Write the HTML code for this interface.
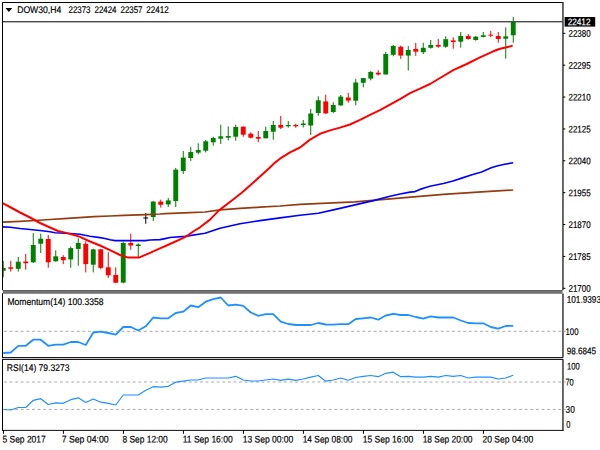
<!DOCTYPE html>
<html><head><meta charset="utf-8"><style>
html,body{margin:0;padding:0;background:#fff;width:600px;height:450px;overflow:hidden;}
svg{display:block;}
text{font-family:"Liberation Sans",sans-serif;}
</style></head><body>
<svg width="600" height="450" viewBox="0 0 600 450">
<rect width="600" height="450" fill="#fff"/>
<defs><clipPath id="cm"><rect x="3" y="3" width="559.5" height="287"/></clipPath><clipPath id="c2"><rect x="3" y="294" width="559.5" height="63"/></clipPath><clipPath id="c3"><rect x="3" y="360" width="559.5" height="69"/></clipPath></defs>
<g clip-path="url(#cm)">
<rect x="2.75" y="260.90" width="1" height="16.30" fill="#008000"/>
<rect x="0.80" y="267.90" width="4.9" height="2.90" fill="#008000"/>
<rect x="10.25" y="260.90" width="1" height="10.70" fill="#ff0000"/>
<rect x="8.30" y="267.30" width="4.9" height="1.50" fill="#ff0000"/>
<rect x="17.75" y="257.00" width="1" height="14.60" fill="#008000"/>
<rect x="15.80" y="261.70" width="4.9" height="7.10" fill="#008000"/>
<rect x="25.25" y="254.00" width="1" height="15.80" fill="#ff0000"/>
<rect x="23.30" y="261.50" width="4.9" height="1.70" fill="#ff0000"/>
<rect x="32.75" y="233.00" width="1" height="30.00" fill="#008000"/>
<rect x="30.80" y="245.00" width="4.9" height="17.30" fill="#008000"/>
<rect x="40.25" y="233.70" width="1" height="19.30" fill="#008000"/>
<rect x="38.30" y="238.70" width="4.9" height="5.00" fill="#008000"/>
<rect x="47.75" y="235.00" width="1" height="32.70" fill="#ff0000"/>
<rect x="45.80" y="239.00" width="4.9" height="23.30" fill="#ff0000"/>
<rect x="55.25" y="250.30" width="1" height="11.40" fill="#008000"/>
<rect x="53.30" y="256.30" width="4.9" height="5.00" fill="#008000"/>
<rect x="62.75" y="255.20" width="1" height="9.00" fill="#ff0000"/>
<rect x="60.80" y="257.00" width="4.9" height="3.20" fill="#ff0000"/>
<rect x="70.25" y="246.50" width="1" height="21.30" fill="#008000"/>
<rect x="68.30" y="248.10" width="4.9" height="11.30" fill="#008000"/>
<rect x="77.75" y="238.30" width="1" height="27.50" fill="#008000"/>
<rect x="75.80" y="243.00" width="4.9" height="5.90" fill="#008000"/>
<rect x="85.25" y="241.20" width="1" height="31.20" fill="#ff0000"/>
<rect x="83.30" y="243.80" width="4.9" height="20.30" fill="#ff0000"/>
<rect x="92.75" y="248.60" width="1" height="23.80" fill="#008000"/>
<rect x="90.80" y="249.40" width="4.9" height="15.30" fill="#008000"/>
<rect x="100.25" y="249.10" width="1" height="20.30" fill="#ff0000"/>
<rect x="98.30" y="249.30" width="4.9" height="18.60" fill="#ff0000"/>
<rect x="107.75" y="252.20" width="1" height="25.70" fill="#ff0000"/>
<rect x="105.80" y="267.30" width="4.9" height="8.00" fill="#ff0000"/>
<rect x="115.25" y="267.30" width="1" height="16.00" fill="#ff0000"/>
<rect x="113.30" y="275.00" width="4.9" height="7.70" fill="#ff0000"/>
<rect x="122.75" y="241.70" width="1" height="41.70" fill="#008000"/>
<rect x="120.80" y="243.00" width="4.9" height="39.60" fill="#008000"/>
<rect x="130.25" y="233.70" width="1" height="16.00" fill="#ff0000"/>
<rect x="128.30" y="243.00" width="4.9" height="2.50" fill="#ff0000"/>
<rect x="137.75" y="243.40" width="1" height="13.60" fill="#008000"/>
<rect x="135.80" y="244.50" width="4.9" height="1.50" fill="#008000"/>
<rect x="145.25" y="213.00" width="1" height="10.80" fill="#000000"/>
<rect x="143.30" y="217.50" width="4.9" height="1.00" fill="#000000"/>
<rect x="152.75" y="201.00" width="1" height="20.00" fill="#008000"/>
<rect x="150.80" y="201.60" width="4.9" height="15.40" fill="#008000"/>
<rect x="160.25" y="199.60" width="1" height="8.00" fill="#ff0000"/>
<rect x="158.30" y="201.60" width="4.9" height="3.20" fill="#ff0000"/>
<rect x="167.75" y="198.00" width="1" height="9.00" fill="#008000"/>
<rect x="165.80" y="200.40" width="4.9" height="4.00" fill="#008000"/>
<rect x="175.25" y="168.00" width="1" height="39.00" fill="#008000"/>
<rect x="173.30" y="169.60" width="4.9" height="31.40" fill="#008000"/>
<rect x="182.75" y="151.00" width="1" height="23.00" fill="#008000"/>
<rect x="180.80" y="157.60" width="4.9" height="13.40" fill="#008000"/>
<rect x="190.25" y="147.00" width="1" height="14.00" fill="#008000"/>
<rect x="188.30" y="152.00" width="4.9" height="6.00" fill="#008000"/>
<rect x="197.75" y="143.30" width="1" height="11.00" fill="#008000"/>
<rect x="195.80" y="150.00" width="4.9" height="2.70" fill="#008000"/>
<rect x="205.25" y="140.00" width="1" height="12.40" fill="#008000"/>
<rect x="203.30" y="141.30" width="4.9" height="9.40" fill="#008000"/>
<rect x="212.75" y="136.70" width="1" height="9.00" fill="#008000"/>
<rect x="210.80" y="138.00" width="4.9" height="4.30" fill="#008000"/>
<rect x="220.25" y="124.70" width="1" height="19.30" fill="#008000"/>
<rect x="218.30" y="136.30" width="4.9" height="2.40" fill="#008000"/>
<rect x="227.75" y="126.40" width="1" height="14.00" fill="#008000"/>
<rect x="225.80" y="136.00" width="4.9" height="1.70" fill="#008000"/>
<rect x="235.25" y="124.70" width="1" height="16.00" fill="#008000"/>
<rect x="233.30" y="127.00" width="4.9" height="9.70" fill="#008000"/>
<rect x="242.75" y="126.30" width="1" height="10.40" fill="#ff0000"/>
<rect x="240.80" y="126.70" width="4.9" height="8.00" fill="#ff0000"/>
<rect x="250.25" y="132.30" width="1" height="6.00" fill="#ff0000"/>
<rect x="248.30" y="133.70" width="4.9" height="4.00" fill="#ff0000"/>
<rect x="257.75" y="131.00" width="1" height="11.30" fill="#ff0000"/>
<rect x="255.80" y="137.00" width="4.9" height="1.70" fill="#ff0000"/>
<rect x="265.25" y="126.60" width="1" height="11.70" fill="#008000"/>
<rect x="263.30" y="131.00" width="4.9" height="7.30" fill="#008000"/>
<rect x="272.75" y="121.00" width="1" height="18.70" fill="#008000"/>
<rect x="270.80" y="125.00" width="4.9" height="6.70" fill="#008000"/>
<rect x="280.25" y="116.00" width="1" height="13.00" fill="#ff0000"/>
<rect x="278.30" y="125.00" width="4.9" height="2.70" fill="#ff0000"/>
<rect x="287.75" y="121.00" width="1" height="6.70" fill="#008000"/>
<rect x="285.80" y="125.00" width="4.9" height="1.30" fill="#008000"/>
<rect x="295.25" y="123.70" width="1" height="4.00" fill="#ff0000"/>
<rect x="293.30" y="125.00" width="4.9" height="1.30" fill="#ff0000"/>
<rect x="302.75" y="120.00" width="1" height="7.50" fill="#008000"/>
<rect x="300.80" y="123.50" width="4.9" height="1.50" fill="#008000"/>
<rect x="310.25" y="109.00" width="1" height="26.00" fill="#008000"/>
<rect x="308.30" y="113.50" width="4.9" height="12.00" fill="#008000"/>
<rect x="317.75" y="96.30" width="1" height="19.40" fill="#008000"/>
<rect x="315.80" y="100.30" width="4.9" height="12.70" fill="#008000"/>
<rect x="325.25" y="94.70" width="1" height="19.30" fill="#ff0000"/>
<rect x="323.30" y="101.40" width="4.9" height="12.00" fill="#ff0000"/>
<rect x="332.75" y="102.30" width="1" height="10.70" fill="#008000"/>
<rect x="330.80" y="105.00" width="4.9" height="7.00" fill="#008000"/>
<rect x="340.25" y="95.00" width="1" height="10.70" fill="#008000"/>
<rect x="338.30" y="96.60" width="4.9" height="8.80" fill="#008000"/>
<rect x="347.75" y="92.80" width="1" height="10.00" fill="#ff0000"/>
<rect x="345.80" y="97.50" width="4.9" height="3.10" fill="#ff0000"/>
<rect x="355.25" y="78.90" width="1" height="26.40" fill="#008000"/>
<rect x="353.30" y="82.50" width="4.9" height="18.20" fill="#008000"/>
<rect x="362.75" y="78.10" width="1" height="9.30" fill="#008000"/>
<rect x="360.80" y="78.10" width="4.9" height="4.70" fill="#008000"/>
<rect x="370.25" y="71.10" width="1" height="9.30" fill="#008000"/>
<rect x="368.30" y="71.90" width="4.9" height="6.70" fill="#008000"/>
<rect x="377.75" y="70.30" width="1" height="5.20" fill="#ff0000"/>
<rect x="375.80" y="72.70" width="4.9" height="1.80" fill="#ff0000"/>
<rect x="385.25" y="51.70" width="1" height="22.80" fill="#008000"/>
<rect x="383.30" y="54.00" width="4.9" height="20.50" fill="#008000"/>
<rect x="392.75" y="45.00" width="1" height="11.30" fill="#008000"/>
<rect x="390.80" y="45.90" width="4.9" height="8.90" fill="#008000"/>
<rect x="400.25" y="45.60" width="1" height="13.30" fill="#ff0000"/>
<rect x="398.30" y="46.70" width="4.9" height="8.90" fill="#ff0000"/>
<rect x="407.75" y="46.10" width="1" height="24.50" fill="#008000"/>
<rect x="405.80" y="50.00" width="4.9" height="5.60" fill="#008000"/>
<rect x="415.25" y="42.80" width="1" height="13.10" fill="#ff0000"/>
<rect x="413.30" y="48.90" width="4.9" height="2.80" fill="#ff0000"/>
<rect x="422.75" y="42.80" width="1" height="11.30" fill="#008000"/>
<rect x="420.80" y="47.80" width="4.9" height="4.40" fill="#008000"/>
<rect x="430.25" y="40.00" width="1" height="8.60" fill="#008000"/>
<rect x="428.30" y="45.00" width="4.9" height="2.80" fill="#008000"/>
<rect x="437.75" y="38.90" width="1" height="8.90" fill="#ff0000"/>
<rect x="435.80" y="45.00" width="4.9" height="1.70" fill="#ff0000"/>
<rect x="445.25" y="36.30" width="1" height="11.50" fill="#008000"/>
<rect x="443.30" y="39.20" width="4.9" height="7.50" fill="#008000"/>
<rect x="452.75" y="37.30" width="1" height="11.40" fill="#ff0000"/>
<rect x="450.80" y="40.40" width="4.9" height="1.60" fill="#ff0000"/>
<rect x="460.25" y="32.00" width="1" height="15.60" fill="#008000"/>
<rect x="458.30" y="36.00" width="4.9" height="5.70" fill="#008000"/>
<rect x="467.75" y="34.00" width="1" height="5.60" fill="#ff0000"/>
<rect x="465.80" y="36.00" width="4.9" height="3.00" fill="#ff0000"/>
<rect x="475.25" y="36.00" width="1" height="4.70" fill="#008000"/>
<rect x="473.30" y="36.70" width="4.9" height="3.30" fill="#008000"/>
<rect x="482.75" y="32.00" width="1" height="5.30" fill="#008000"/>
<rect x="480.80" y="35.30" width="4.9" height="1.70" fill="#008000"/>
<rect x="490.25" y="31.00" width="1" height="6.30" fill="#ff0000"/>
<rect x="488.30" y="34.70" width="4.9" height="1.00" fill="#ff0000"/>
<rect x="497.75" y="32.00" width="1" height="10.70" fill="#ff0000"/>
<rect x="495.80" y="36.00" width="4.9" height="3.00" fill="#ff0000"/>
<rect x="505.25" y="27.30" width="1" height="31.40" fill="#008000"/>
<rect x="503.30" y="36.40" width="4.9" height="2.30" fill="#008000"/>
<rect x="512.75" y="17.00" width="1" height="25.70" fill="#008000"/>
<rect x="510.80" y="22.00" width="4.9" height="13.30" fill="#008000"/>
<polyline points="2.50,222.10 20.00,221.30 35.00,220.50 50.00,219.50 64.00,218.60 79.00,217.60 94.00,216.60 110.00,216.00 124.00,215.40 146.00,214.60 160.00,214.00 165.00,213.60 190.00,212.70 205.00,212.00 220.00,209.90 240.00,208.30 260.00,207.20 280.00,206.00 300.00,204.30 355.00,201.90 405.00,197.70 443.30,194.40 481.60,191.90 513.20,190.00" fill="none" stroke="#923e12" stroke-width="1.75" stroke-linejoin="round"/>
<polyline points="2.50,226.80 10.00,227.20 20.00,228.50 30.00,229.50 40.00,230.50 50.00,231.80 55.00,232.80 70.00,233.50 80.00,234.20 85.00,235.30 90.00,236.20 100.00,237.60 105.00,238.50 110.00,239.70 115.00,240.60 145.00,240.60 150.00,240.00 160.00,239.60 165.00,238.60 170.00,237.50 185.00,236.40 205.00,233.20 220.00,228.20 240.00,223.70 260.00,220.60 280.00,217.90 300.00,215.30 318.30,213.30 336.70,209.10 355.00,204.90 373.40,200.60 390.00,196.30 400.00,194.00 410.00,192.10 415.00,191.60 420.00,189.40 425.00,187.80 430.00,186.30 443.30,183.50 453.00,181.00 462.50,177.90 472.00,174.80 481.60,172.00 491.20,167.80 497.00,166.00 504.60,164.20 513.20,162.80" fill="none" stroke="#0000ff" stroke-width="1.65" stroke-linejoin="round"/>
<polyline points="2.50,203.20 10.00,207.00 20.00,212.50 30.00,217.50 40.00,223.00 50.00,227.50 58.00,231.00 65.00,232.60 75.00,235.20 80.00,236.90 90.00,241.50 100.00,245.50 110.00,250.20 120.00,255.00 128.00,257.60 139.00,257.60 150.00,252.80 160.00,248.40 170.00,244.00 185.00,237.20 194.70,230.50 200.00,227.30 210.00,219.60 218.70,210.60 232.20,200.20 241.70,192.80 250.00,185.60 253.90,182.00 269.40,167.90 275.00,162.60 280.00,158.70 290.00,152.40 300.00,147.50 310.00,139.60 320.00,133.80 330.00,130.40 340.00,127.60 350.00,124.50 360.00,119.80 370.00,114.80 380.00,110.20 390.00,104.70 400.00,99.20 405.00,96.20 410.00,93.20 420.00,88.60 430.00,84.00 440.00,78.00 453.30,70.20 466.70,64.00 480.00,57.30 493.30,51.30 500.00,48.70 506.70,47.30 512.70,45.60" fill="none" stroke="#ff0000" stroke-width="2.0" stroke-linejoin="round"/>
</g>
<rect x="3" y="21" width="560" height="1.4" fill="#4a4a4a"/>
<rect x="2" y="2" width="561" height="1" fill="#000"/>
<rect x="2" y="2" width="1" height="288.3" fill="#000"/>
<rect x="2" y="293.3" width="1" height="64.7" fill="#000"/>
<rect x="2" y="359" width="1" height="71.9" fill="#000"/>
<rect x="562.2" y="2" width="1.5" height="288" fill="#383838"/>
<rect x="562.2" y="293.5" width="1.5" height="64" fill="#383838"/>
<rect x="562.2" y="359.2" width="1.5" height="71.7" fill="#383838"/>
<rect x="3" y="290" width="559.5" height="3.8" fill="#737373"/>
<rect x="3" y="290" width="559.5" height="0.9" fill="#5e5e5e"/>
<rect x="2" y="358" width="561" height="1" fill="#c8c8c8"/>
<rect x="2" y="357" width="561" height="1" fill="#1a1a1a"/>
<rect x="2" y="359" width="561" height="1" fill="#1a1a1a"/>
<rect x="2" y="429.9" width="561.5" height="1" fill="#111"/>
<rect x="563" y="32.80" width="2.3" height="1" fill="#000"/>
<rect x="563" y="64.67" width="2.3" height="1" fill="#000"/>
<rect x="563" y="96.55" width="2.3" height="1" fill="#000"/>
<rect x="563" y="128.43" width="2.3" height="1" fill="#000"/>
<rect x="563" y="160.30" width="2.3" height="1" fill="#000"/>
<rect x="563" y="192.18" width="2.3" height="1" fill="#000"/>
<rect x="563" y="224.05" width="2.3" height="1" fill="#000"/>
<rect x="563" y="255.93" width="2.3" height="1" fill="#000"/>
<rect x="563" y="287.80" width="2.3" height="1" fill="#000"/>
<rect x="564.6" y="17" width="30.6" height="9.6" fill="#000"/>
<path d="M5.5,7.9 L12.3,7.9 L8.9,12.1 Z" fill="#000"/>
<g clip-path="url(#c2)">
<line x1="3" y1="331.3" x2="562" y2="331.3" stroke="#a8a8a8" stroke-width="1" stroke-dasharray="2.8 2.8" stroke-dashoffset="-1"/>
<polyline points="3.25,353.00 10.75,352.50 18.25,345.80 25.75,345.80 33.25,339.70 40.75,339.70 48.25,345.80 55.75,344.70 63.25,344.70 70.75,342.00 78.25,342.00 85.75,345.00 93.25,332.50 100.75,331.70 108.25,333.00 115.75,334.70 123.25,327.00 130.75,327.00 138.25,330.50 145.75,326.30 153.25,317.50 160.75,318.30 168.25,318.30 175.75,313.00 183.25,311.70 190.75,305.50 198.25,307.20 205.75,301.70 213.25,299.20 220.75,297.50 228.25,305.50 235.75,304.70 243.25,305.80 250.75,312.50 258.25,315.80 265.75,314.20 273.25,314.20 280.75,321.70 288.25,324.00 295.75,325.00 303.25,325.00 310.75,325.00 318.25,323.00 325.75,324.50 333.25,324.70 340.75,324.20 348.25,324.20 355.75,319.00 363.25,318.30 370.75,317.50 378.25,319.70 385.75,315.50 393.25,313.80 400.75,315.00 408.25,315.00 415.75,317.00 423.25,318.70 430.75,316.30 438.25,317.50 445.75,317.50 453.25,317.50 460.75,320.50 468.25,323.00 475.75,323.30 483.25,323.30 490.75,327.00 498.25,328.70 505.75,326.00 513.25,325.80" fill="none" stroke="#1e90ff" stroke-width="1.8" stroke-linejoin="round"/>
</g>
<g clip-path="url(#c3)">
<line x1="3" y1="382" x2="562" y2="382" stroke="#a8a8a8" stroke-width="1" stroke-dasharray="2.8 2.8" stroke-dashoffset="-1"/>
<line x1="3" y1="409.4" x2="562" y2="409.4" stroke="#a8a8a8" stroke-width="1" stroke-dasharray="2.8 2.8" stroke-dashoffset="-1"/>
<polyline points="3.25,409.50 10.75,410.00 18.25,407.50 25.75,407.50 33.25,400.30 40.75,398.70 48.25,404.50 55.75,402.80 63.25,403.30 70.75,399.70 78.25,397.80 85.75,402.50 93.25,399.00 100.75,402.20 108.25,403.30 115.75,405.00 123.25,395.00 130.75,395.00 138.25,395.00 145.75,390.30 153.25,386.70 160.75,387.20 168.25,386.30 175.75,382.20 183.25,381.20 190.75,380.00 198.25,380.00 205.75,378.00 213.25,378.00 220.75,378.00 228.25,378.00 235.75,376.30 243.25,380.00 250.75,381.00 258.25,381.00 265.75,380.00 273.25,379.00 280.75,380.30 288.25,379.20 295.75,380.30 303.25,379.00 310.75,377.20 318.25,375.50 325.75,381.20 333.25,380.00 340.75,378.00 348.25,380.30 355.75,377.50 363.25,376.30 370.75,375.50 378.25,376.70 385.75,373.30 393.25,372.20 400.75,376.70 408.25,376.30 415.75,377.20 423.25,377.20 430.75,376.30 438.25,377.20 445.75,375.50 453.25,376.30 460.75,375.50 468.25,378.00 475.75,377.20 483.25,377.20 490.75,377.20 498.25,379.00 505.75,378.00 513.25,375.30" fill="none" stroke="#1e90ff" stroke-width="1.2" stroke-linejoin="round"/>
</g>
<rect x="563.6" y="330.80" width="2.2" height="1" fill="#a0a0a0"/>
<rect x="563.6" y="381.50" width="2.2" height="1" fill="#a0a0a0"/>
<rect x="563.6" y="408.90" width="2.2" height="1" fill="#a0a0a0"/>
<rect x="2.90" y="430.5" width="1" height="3.3" fill="#000"/>
<rect x="62.90" y="430.5" width="1" height="3.3" fill="#000"/>
<rect x="122.90" y="430.5" width="1" height="3.3" fill="#000"/>
<rect x="182.90" y="430.5" width="1" height="3.3" fill="#000"/>
<rect x="242.90" y="430.5" width="1" height="3.3" fill="#000"/>
<rect x="302.90" y="430.5" width="1" height="3.3" fill="#000"/>
<rect x="362.90" y="430.5" width="1" height="3.3" fill="#000"/>
<rect x="422.90" y="430.5" width="1" height="3.3" fill="#000"/>
<rect x="482.90" y="430.5" width="1" height="3.3" fill="#000"/>
<text x="17.20" y="13.00" transform="rotate(0.05 17.20 13.00)" font-family="Liberation Sans, sans-serif" font-size="9.7" fill="#000" textLength="44.05" lengthAdjust="spacingAndGlyphs" stroke="#000" stroke-width="0.18">DOW30,H4</text>
<text x="68.50" y="13.00" transform="rotate(0.05 68.50 13.00)" font-family="Liberation Sans, sans-serif" font-size="9.7" fill="#000" textLength="22.00" lengthAdjust="spacingAndGlyphs" stroke="#000" stroke-width="0.18">22373</text>
<text x="94.50" y="13.00" transform="rotate(0.05 94.50 13.00)" font-family="Liberation Sans, sans-serif" font-size="9.7" fill="#000" textLength="22.00" lengthAdjust="spacingAndGlyphs" stroke="#000" stroke-width="0.18">22424</text>
<text x="120.50" y="13.00" transform="rotate(0.05 120.50 13.00)" font-family="Liberation Sans, sans-serif" font-size="9.7" fill="#000" textLength="22.00" lengthAdjust="spacingAndGlyphs" stroke="#000" stroke-width="0.18">22357</text>
<text x="146.30" y="13.00" transform="rotate(0.05 146.30 13.00)" font-family="Liberation Sans, sans-serif" font-size="9.7" fill="#000" textLength="22.40" lengthAdjust="spacingAndGlyphs" stroke="#000" stroke-width="0.18">22412</text>
<text x="7.50" y="305.00" transform="rotate(0.05 7.50 305.00)" font-family="Liberation Sans, sans-serif" font-size="9.7" fill="#000" textLength="95.90" lengthAdjust="spacingAndGlyphs" stroke="#000" stroke-width="0.18">Momentum(14) 100.3358</text>
<text x="6.80" y="370.90" transform="rotate(0.05 6.80 370.90)" font-family="Liberation Sans, sans-serif" font-size="9.7" fill="#000" textLength="62.70" lengthAdjust="spacingAndGlyphs" stroke="#000" stroke-width="0.18">RSI(14) 79.3273</text>
<text x="566.70" y="302.80" transform="rotate(0.05 566.70 302.80)" font-family="Liberation Sans, sans-serif" font-size="9.7" fill="#000" textLength="34.30" lengthAdjust="spacingAndGlyphs" stroke="#000" stroke-width="0.18">101.9393</text>
<text x="565.50" y="335.10" transform="rotate(0.05 565.50 335.10)" font-family="Liberation Sans, sans-serif" font-size="9.7" fill="#000" textLength="13.00" lengthAdjust="spacingAndGlyphs" stroke="#000" stroke-width="0.18">100</text>
<text x="566.70" y="354.30" transform="rotate(0.05 566.70 354.30)" font-family="Liberation Sans, sans-serif" font-size="9.7" fill="#000" textLength="29.40" lengthAdjust="spacingAndGlyphs" stroke="#000" stroke-width="0.18">98.6845</text>
<text x="567.10" y="369.40" transform="rotate(0.05 567.10 369.40)" font-family="Liberation Sans, sans-serif" font-size="9.7" fill="#000" textLength="12.70" lengthAdjust="spacingAndGlyphs" stroke="#000" stroke-width="0.18">100</text>
<text x="565.40" y="385.40" transform="rotate(0.05 565.40 385.40)" font-family="Liberation Sans, sans-serif" font-size="9.7" fill="#000" textLength="8.30" lengthAdjust="spacingAndGlyphs" stroke="#000" stroke-width="0.18">70</text>
<text x="565.60" y="412.80" transform="rotate(0.05 565.60 412.80)" font-family="Liberation Sans, sans-serif" font-size="9.7" fill="#000" textLength="9.20" lengthAdjust="spacingAndGlyphs" stroke="#000" stroke-width="0.18">30</text>
<text x="566.30" y="427.70" transform="rotate(0.05 566.30 427.70)" font-family="Liberation Sans, sans-serif" font-size="9.7" fill="#000" textLength="4.20" lengthAdjust="spacingAndGlyphs" stroke="#000" stroke-width="0.18">0</text>
<text x="567.70" y="25.30" transform="rotate(0.05 567.70 25.30)" font-family="Liberation Sans, sans-serif" font-size="9.7" fill="#fff" textLength="22.80" lengthAdjust="spacingAndGlyphs" stroke="#fff" stroke-width="0.18">22412</text>
<text x="568.50" y="36.80" transform="rotate(0.05 568.50 36.80)" font-family="Liberation Sans, sans-serif" font-size="9.7" fill="#000" textLength="22.10" lengthAdjust="spacingAndGlyphs" stroke="#000" stroke-width="0.18">22380</text>
<text x="568.50" y="68.67" transform="rotate(0.05 568.50 68.67)" font-family="Liberation Sans, sans-serif" font-size="9.7" fill="#000" textLength="22.10" lengthAdjust="spacingAndGlyphs" stroke="#000" stroke-width="0.18">22295</text>
<text x="568.50" y="100.55" transform="rotate(0.05 568.50 100.55)" font-family="Liberation Sans, sans-serif" font-size="9.7" fill="#000" textLength="22.10" lengthAdjust="spacingAndGlyphs" stroke="#000" stroke-width="0.18">22210</text>
<text x="568.50" y="132.43" transform="rotate(0.05 568.50 132.43)" font-family="Liberation Sans, sans-serif" font-size="9.7" fill="#000" textLength="22.10" lengthAdjust="spacingAndGlyphs" stroke="#000" stroke-width="0.18">22125</text>
<text x="568.50" y="164.30" transform="rotate(0.05 568.50 164.30)" font-family="Liberation Sans, sans-serif" font-size="9.7" fill="#000" textLength="22.10" lengthAdjust="spacingAndGlyphs" stroke="#000" stroke-width="0.18">22040</text>
<text x="568.50" y="196.18" transform="rotate(0.05 568.50 196.18)" font-family="Liberation Sans, sans-serif" font-size="9.7" fill="#000" textLength="22.10" lengthAdjust="spacingAndGlyphs" stroke="#000" stroke-width="0.18">21955</text>
<text x="568.50" y="228.05" transform="rotate(0.05 568.50 228.05)" font-family="Liberation Sans, sans-serif" font-size="9.7" fill="#000" textLength="22.10" lengthAdjust="spacingAndGlyphs" stroke="#000" stroke-width="0.18">21870</text>
<text x="568.50" y="259.93" transform="rotate(0.05 568.50 259.93)" font-family="Liberation Sans, sans-serif" font-size="9.7" fill="#000" textLength="22.10" lengthAdjust="spacingAndGlyphs" stroke="#000" stroke-width="0.18">21785</text>
<text x="568.50" y="291.80" transform="rotate(0.05 568.50 291.80)" font-family="Liberation Sans, sans-serif" font-size="9.7" fill="#000" textLength="22.10" lengthAdjust="spacingAndGlyphs" stroke="#000" stroke-width="0.18">21700</text>
<text x="2.50" y="442.50" transform="rotate(0.05 2.50 442.50)" font-family="Liberation Sans, sans-serif" font-size="9.7" fill="#000" textLength="43.20" lengthAdjust="spacingAndGlyphs" stroke="#000" stroke-width="0.18">5 Sep 2017</text>
<text x="61.70" y="442.50" transform="rotate(0.05 61.70 442.50)" font-family="Liberation Sans, sans-serif" font-size="9.7" fill="#000" textLength="47.00" lengthAdjust="spacingAndGlyphs" stroke="#000" stroke-width="0.18">7 Sep 04:00</text>
<text x="122.50" y="442.50" transform="rotate(0.05 122.50 442.50)" font-family="Liberation Sans, sans-serif" font-size="9.7" fill="#000" textLength="45.20" lengthAdjust="spacingAndGlyphs" stroke="#000" stroke-width="0.18">8 Sep 12:00</text>
<text x="182.70" y="442.50" transform="rotate(0.05 182.70 442.50)" font-family="Liberation Sans, sans-serif" font-size="9.7" fill="#000" textLength="50.00" lengthAdjust="spacingAndGlyphs" stroke="#000" stroke-width="0.18">11 Sep 16:00</text>
<text x="242.70" y="442.50" transform="rotate(0.05 242.70 442.50)" font-family="Liberation Sans, sans-serif" font-size="9.7" fill="#000" textLength="50.60" lengthAdjust="spacingAndGlyphs" stroke="#000" stroke-width="0.18">13 Sep 00:00</text>
<text x="302.70" y="442.50" transform="rotate(0.05 302.70 442.50)" font-family="Liberation Sans, sans-serif" font-size="9.7" fill="#000" textLength="49.80" lengthAdjust="spacingAndGlyphs" stroke="#000" stroke-width="0.18">14 Sep 08:00</text>
<text x="362.70" y="442.50" transform="rotate(0.05 362.70 442.50)" font-family="Liberation Sans, sans-serif" font-size="9.7" fill="#000" textLength="50.60" lengthAdjust="spacingAndGlyphs" stroke="#000" stroke-width="0.18">15 Sep 16:00</text>
<text x="422.70" y="442.50" transform="rotate(0.05 422.70 442.50)" font-family="Liberation Sans, sans-serif" font-size="9.7" fill="#000" textLength="49.80" lengthAdjust="spacingAndGlyphs" stroke="#000" stroke-width="0.18">18 Sep 20:00</text>
<text x="482.50" y="442.50" transform="rotate(0.05 482.50 442.50)" font-family="Liberation Sans, sans-serif" font-size="9.7" fill="#000" textLength="50.80" lengthAdjust="spacingAndGlyphs" stroke="#000" stroke-width="0.18">20 Sep 04:00</text>
</svg>
</body></html>
